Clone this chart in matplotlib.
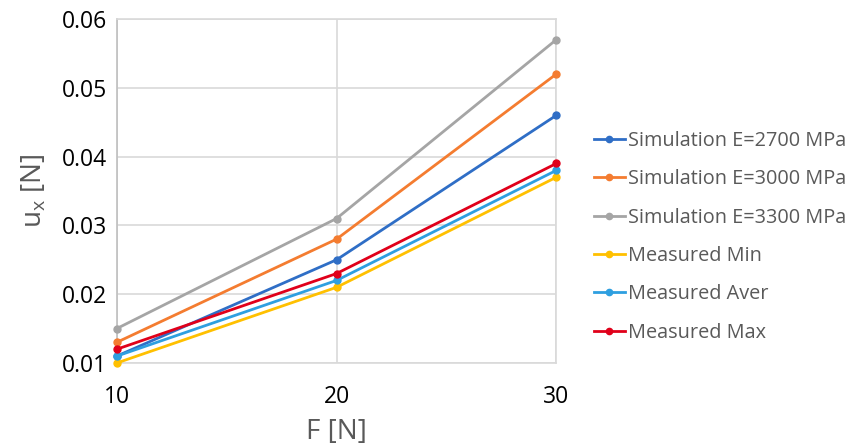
import matplotlib.pyplot as plt

plt.rcParams['font.family'] = ['Open Sans', 'DejaVu Sans']

force = [10, 20, 30]
sim_2700 = [0.011, 0.025, 0.046]
sim_3000 = [0.013, 0.028, 0.052]
sim_3300 = [0.015, 0.031, 0.057]
meas_min = [0.010, 0.021, 0.037]
meas_aver = [0.011, 0.022, 0.038]
meas_max = [0.012, 0.023, 0.039]
y_ticks = [0.01, 0.02, 0.03, 0.04, 0.05, 0.06]

series = [
    ('Simulation E=2700 MPa', sim_2700, '#2F6EC6'),
    ('Simulation E=3000 MPa', sim_3000, '#F47C30'),
    ('Simulation E=3300 MPa', sim_3300, '#A5A5A5'),
    ('Measured Min', meas_min, '#FFC000'),
    ('Measured Aver', meas_aver, '#2E9FE0'),
    ('Measured Max', meas_max, '#E0001A'),
]

fig = plt.figure(figsize=(8.6, 4.48), dpi=100)
ax = fig.add_axes([0.1357, 0.1897, 0.5112, 0.7679])

for label, vals, col in series:
    ax.plot(force, vals, color=col, lw=2.0, marker='o', markersize=5,
            label=label, clip_on=False, zorder=3)

ax.set_xlim(10, 30)
ax.set_ylim(0.01, 0.06)
ax.set_xticks(force)
ax.set_yticks(y_ticks)
ax.set_yticklabels(['%.2f' % v for v in y_ticks])
ax.grid(True, color='#D9D9D9', lw=1.2)
ax.set_axisbelow(True)
for sp in ax.spines.values():
    sp.set_color('#D9D9D9')
    sp.set_linewidth(1.2)
ax.spines['left'].set_color('#BFBFBF')
ax.tick_params(length=0, labelsize=16.5, colors='black')
ax.tick_params(axis='y', pad=7)
ax.tick_params(axis='x', pad=16)

ax.set_xlabel('F [N]', fontsize=20, color='#595959', labelpad=6)
ax.set_ylabel('u$_\\mathregular{x}$ [N]', fontsize=20, color='#595959', labelpad=10)

# legend sits to the right of the plot, rows ~38px apart
fig.legend(loc='upper left', bbox_to_anchor=(0.681, 0.725), frameon=False,
           fontsize=14.3, labelcolor='#595959', handlelength=1.6,
           handletextpad=0.15, labelspacing=0.92, markerscale=0.9,
           borderaxespad=0)

fig.savefig('out.png', dpi=100)
